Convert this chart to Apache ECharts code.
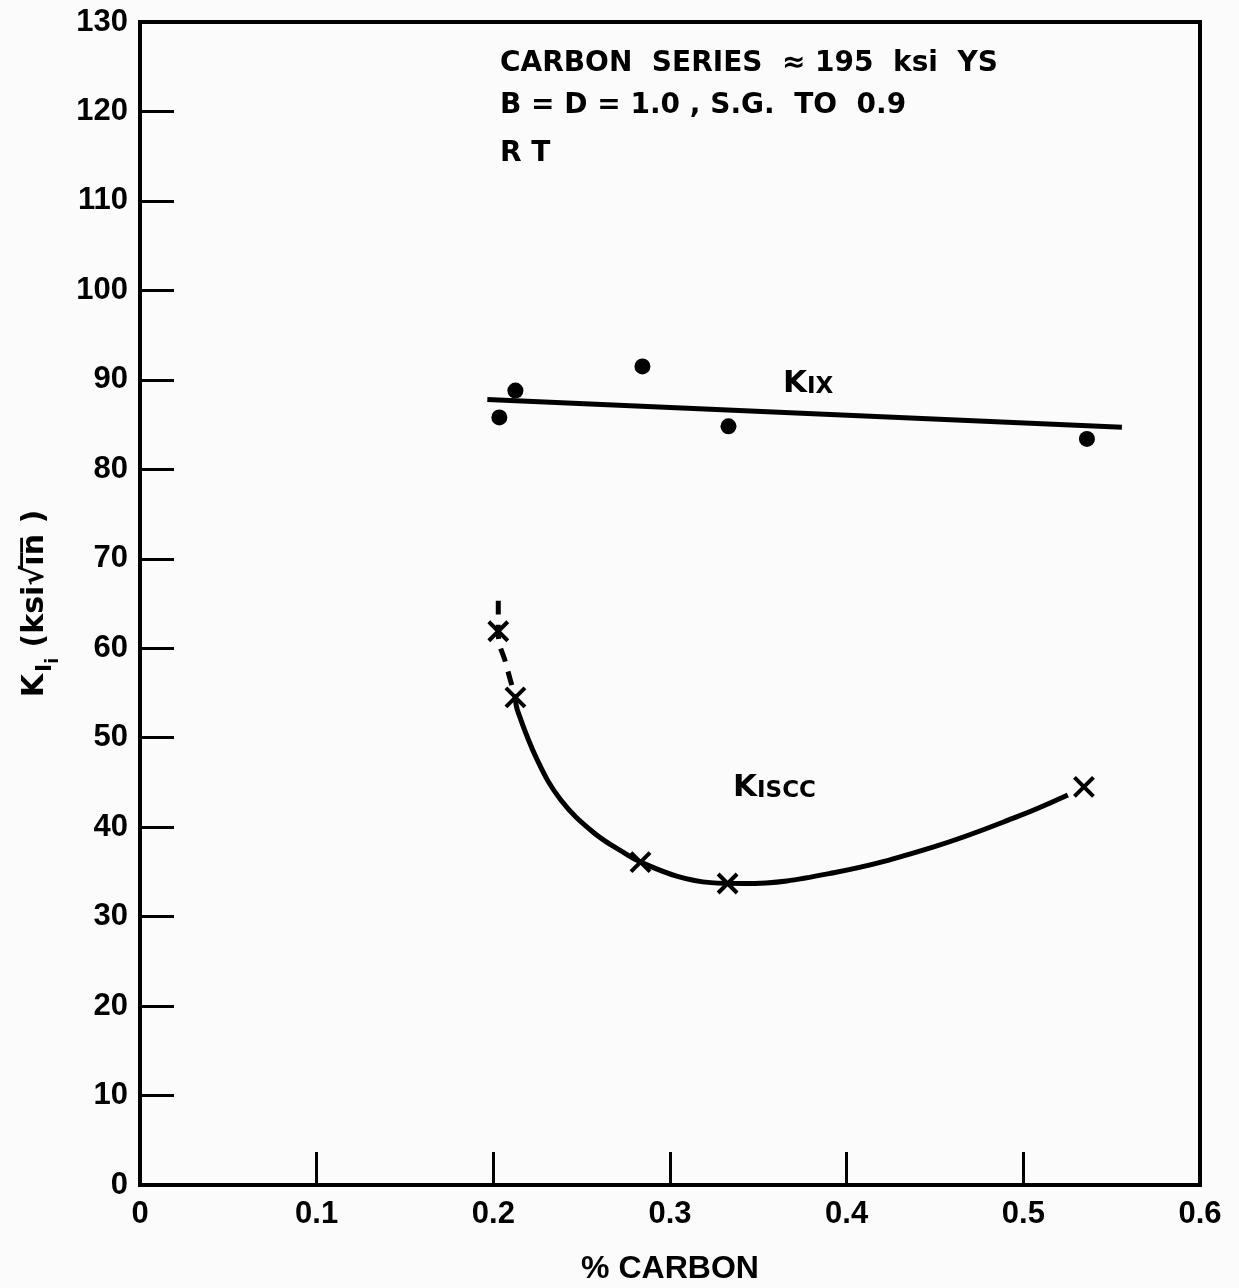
<!DOCTYPE html>
<html>
<head>
<meta charset="utf-8">
<script src="https://cdn.jsdelivr.net/npm/echarts@6/dist/echarts.min.js"></script>
<style>
  html, body { margin: 0; padding: 0; background: #fbfbfb; }
  #main { width: 1239px; height: 1288px; }
</style>
</head>
<body>
<div id="main"></div>
<script>
  // K_Ix test points (% carbon, ksi sqrt(in))
  var kixPoints = [
    [0.2034, 85.8],
    [0.2125, 88.8],
    [0.2844, 91.5],
    [0.3331, 84.8],
    [0.536, 83.4]
  ]
  // hand drawn fit line through K_Ix
  var kixLine = [
    [0.1966, 87.8],
    [0.5558, 84.7]
  ]
  // K_Iscc test points
  var kisccPoints = [
    [0.2028, 61.9],
    [0.2125, 54.5],
    [0.2833, 36.1],
    [0.3326, 33.7],
    [0.5343, 44.5]
  ]
  // hand drawn curve, dashed part at the top
  var kisccDashed = [
    [0.2028, 65.3],
    [0.2028, 61.9],
    [0.2075, 58.0],
    [0.2125, 54.5]
  ]
  var kisccCurve = [
    [0.2125, 54.5],
    [0.2136, 53.1],
    [0.2249, 47.5],
    [0.238, 43.1],
    [0.2567, 39.4],
    [0.2759, 36.9],
    [0.2833, 36.1],
    [0.3042, 34.5],
    [0.323, 33.8],
    [0.3416, 33.7],
    [0.3926, 34.9],
    [0.4493, 37.8],
    [0.4969, 41.2],
    [0.5252, 43.6]
  ]
  var noteLines = [
    'CARBON  SERIES  \u2248 195  ksi  YS',
    'B = D = 1.0 , S.G.  TO  0.9',
    'R T'
  ]

  var myChart = echarts.init(document.getElementById('main'))

  var tickFont = {
    color: '#000',
    fontFamily: 'Liberation Sans',
    fontWeight: 'bold',
    fontSize: 31
  }
  var noteFont = 'bold 28px "DejaVu Sans"'

  var option = {
    backgroundColor: '#fbfbfb',
    animation: false,
    grid: {
      left: 140,
      right: 39,
      top: 22,
      bottom: 103,
      outerBoundsMode: 'none',
      containLabel: false,
      show: true,
      borderColor: '#000',
      borderWidth: 4
    },
    xAxis: {
      type: 'value',
      min: 0,
      max: 0.6,
      interval: 0.1,
      name: '% CARBON',
      nameLocation: 'middle',
      nameGap: 68,
      nameTextStyle: {
        color: '#000',
        fontFamily: 'Liberation Sans',
        fontWeight: 'bold',
        fontSize: 32
      },
      axisLine: { lineStyle: { color: '#000', width: 4 } },
      axisTick: { inside: true, length: 33, lineStyle: { color: '#000', width: 3 } },
      axisLabel: Object.assign({ margin: 14 }, tickFont),
      splitLine: { show: false }
    },
    yAxis: {
      type: 'value',
      min: 0,
      max: 130,
      interval: 10,
      name: '{k|K}{s|I}{t|i}{k| (ksi\u221Ai\u0305n\u0305 )}',
      nameLocation: 'middle',
      nameRotate: 90,
      nameGap: 78,
      nameTextStyle: {
        rich: {
          k: { color: '#000', fontFamily: 'DejaVu Sans', fontWeight: 'bold', fontSize: 30, verticalAlign: 'top' },
          s: { color: '#000', fontFamily: 'DejaVu Sans', fontWeight: 'bold', fontSize: 22, verticalAlign: 'top', padding: [14, 0, 0, 2] },
          t: { color: '#000', fontFamily: 'DejaVu Sans', fontWeight: 'bold', fontSize: 17, verticalAlign: 'top', padding: [25, 0, 0, 0] }
        }
      },
      axisLine: { lineStyle: { color: '#000', width: 4 } },
      axisTick: { inside: true, length: 34, lineStyle: { color: '#000', width: 3 } },
      axisLabel: Object.assign({ margin: 12 }, tickFont),
      splitLine: { show: false }
    },
    graphic: [
      {
        type: 'text',
        left: 500,
        top: 50,
        style: { text: noteLines[0], fill: '#000', font: noteFont }
      },
      {
        type: 'text',
        left: 500,
        top: 92,
        style: { text: noteLines[1], fill: '#000', font: noteFont }
      },
      {
        type: 'text',
        left: 500,
        top: 140,
        style: { text: noteLines[2], fill: '#000', font: noteFont }
      },
      {
        type: 'text',
        left: 783,
        top: 368,
        style: {
          text: '{a|K}{b|IX}',
          rich: {
            a: { fill: '#000', font: 'bold 31px "DejaVu Sans"', verticalAlign: 'bottom' },
            b: { fill: '#000', font: 'bold 23px "DejaVu Sans"', verticalAlign: 'bottom' }
          }
        }
      },
      {
        type: 'text',
        left: 733,
        top: 772,
        style: {
          text: '{a|K}{b|ISCC}',
          rich: {
            a: { fill: '#000', font: 'bold 31px "DejaVu Sans"', verticalAlign: 'bottom' },
            b: { fill: '#000', font: 'bold 23px "DejaVu Sans"', verticalAlign: 'bottom' }
          }
        }
      }
    ],
    series: [
      {
        name: 'Kix fit',
        type: 'line',
        data: kixLine,
        symbol: 'none',
        lineStyle: { color: '#000', width: 5 },
        z: 2
      },
      {
        name: 'Kix',
        type: 'scatter',
        data: kixPoints,
        symbol: 'circle',
        symbolSize: 16,
        itemStyle: { color: '#000', opacity: 1 },
        z: 3
      },
      {
        name: 'Kiscc dashed',
        type: 'line',
        data: kisccDashed,
        symbol: 'none',
        smooth: true,
        lineStyle: { color: '#000', width: 5, type: [14, 10] },
        z: 2
      },
      {
        name: 'Kiscc curve',
        type: 'line',
        data: kisccCurve,
        symbol: 'none',
        smooth: 0.4,
        lineStyle: { color: '#000', width: 5 },
        z: 2
      },
      {
        name: 'Kiscc',
        type: 'scatter',
        data: kisccPoints,
        symbol: 'path://M0,0L10,10M10,0L0,10',
        symbolSize: 19,
        itemStyle: { color: '#000', borderColor: '#000', borderWidth: 4, opacity: 1 },
        z: 3
      }
    ]
  }

  myChart.setOption(option)
  window.addEventListener('resize', function () {
    myChart.resize()
  })
</script>
</body>
</html>
